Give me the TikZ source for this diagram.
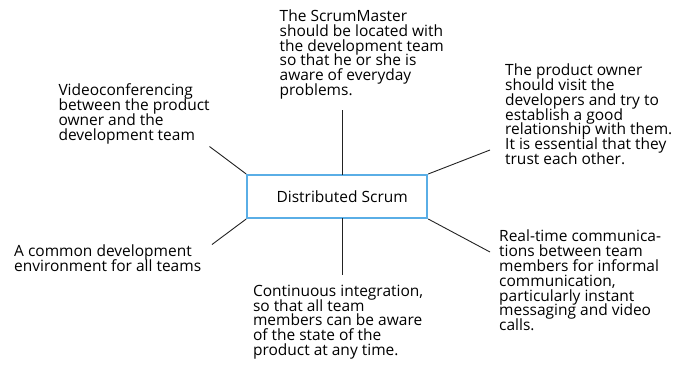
\documentclass[tikz,border=0pt]{standalone}
\usepackage{fontspec}
\setmainfont{Open Sans}
\definecolor{boxblue}{HTML}{5AAEE6}
\definecolor{linegray}{HTML}{222222}
\newcommand{\lblfont}{\fontsize{15.5}{14.8}\selectfont\lineskiplimit=-20pt\lineskip=0pt}
\begin{document}
\begin{tikzpicture}[x=1pt,y=-1pt,
  lbl/.style={anchor=base west,align=left,inner sep=0pt,font=\lblfont,text=black},
  conn/.style={draw=linegray,line width=0.9pt},
  mainbox/.style={draw=boxblue,line width=2pt,minimum width=180pt,minimum height=43pt,inner sep=0pt,font=\lblfont}]
\useasboundingbox (0,0) rectangle (673,365);
\node[mainbox] (ds) at (337.2,196.5) {\hspace*{10pt}Distributed Scrum};
\node[lbl] (sm) at (279.5,95.5) {The ScrumMaster\\should be located with\\the development team\\so that he or she is\\aware of everyday\\problems.};
\node[lbl] (vc) at (58.3,140) {Videoconferencing\\between the product\\owner and the\\development team};
\node[lbl] (po) at (505,164.5) {The product owner\\should visit the\\developers and try to\\establish a good\\relationship with them.\\It is essential that they\\trust each other.};
\node[lbl] (ce) at (14,271.7) {A common development\\environment for all teams};
\node[lbl] (ci) at (252.8,355.5) {Continuous integration,\\so that all team\\members can be aware\\of the state of the\\product at any time.};
\node[lbl] (rt) at (499,330.7) {Real-time communica-\\tions between team\\members for informal\\communication,\\particularly instant\\messaging and video\\calls.};
\coordinate (t1) at (342.7,110);
\coordinate (t2) at (342.7,175);
\coordinate (b1) at (342.7,218);
\coordinate (b2) at (342.7,275);
\coordinate (ul) at (209.5,146.5);
\coordinate (ll) at (212,244.5);
\coordinate (ur) at (490,150);
\coordinate (lr) at (490,252);
\draw[conn] (t1) -- (t2);
\draw[conn] (b1) -- (b2);
\draw[conn] (ul) -- (ds.north west);
\draw[conn] (ll) -- (ds.south west);
\draw[conn] (ur) -- (ds.north east);
\draw[conn] (lr) -- (ds.south east);
\end{tikzpicture}
\end{document}
